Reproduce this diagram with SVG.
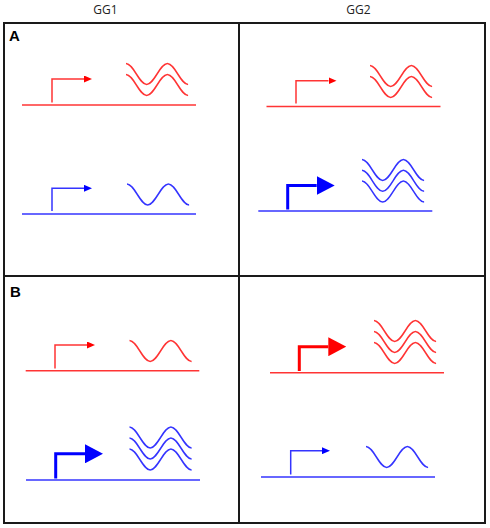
<svg xmlns="http://www.w3.org/2000/svg" xmlns:xlink="http://www.w3.org/1999/xlink" width="490" height="528" viewBox="0 0 490 528">
<style>
.frame{fill:none;stroke:#1a1a1a;stroke-width:2}
.hdr{font-family:"Open Sans","Liberation Sans",sans-serif;font-size:12px;fill:#222;text-anchor:middle}
.lbl{font-family:"Liberation Sans",Arial,sans-serif;font-size:15px;font-weight:bold;fill:#000}
.r{stroke:#ff3434;fill:none;stroke-width:1.5}
.b{stroke:#3434ff;fill:none;stroke-width:1.5}
.rt{stroke:#ff0000;fill:none;stroke-width:3;stroke-linejoin:miter}
.bt{stroke:#0000ff;fill:none;stroke-width:3;stroke-linejoin:miter}
</style>
<defs>
<path id="wave" d="M0,0 C7.5,0 13.2,21 20.7,21 S33.9,0 41.4,0 S54.6,21 62.1,21"/>
<marker id="arR" markerUnits="userSpaceOnUse" viewBox="0 0 8 7" refX="0" refY="3.5" markerWidth="8" markerHeight="7" orient="auto"><path d="M0,0 L8,3.5 L0,7 Z" fill="#ff0000"/></marker>
<marker id="arB" markerUnits="userSpaceOnUse" viewBox="0 0 8 7" refX="0" refY="3.5" markerWidth="8" markerHeight="7" orient="auto"><path d="M0,0 L8,3.5 L0,7 Z" fill="#0000ff"/></marker>
<marker id="arRT" markerUnits="userSpaceOnUse" viewBox="0 0 18 19" refX="0" refY="9.5" markerWidth="18" markerHeight="19" orient="auto"><path d="M0,0 L18,9.5 L0,19 Z" fill="#ff0000"/></marker>
<marker id="arBT" markerUnits="userSpaceOnUse" viewBox="0 0 18 19" refX="0" refY="9.5" markerWidth="18" markerHeight="19" orient="auto"><path d="M0,0 L18,9.5 L0,19 Z" fill="#0000ff"/></marker>
</defs>
<rect width="490" height="528" fill="#fff"/>
<g id="frame">
<rect class="frame" x="4" y="23" width="235" height="253"/>
<rect class="frame" x="239" y="23" width="246" height="253"/>
<rect class="frame" x="4" y="276" width="235" height="247"/>
<rect class="frame" x="239" y="276" width="246" height="247"/>
</g>
<g id="headers">
<text class="hdr" x="105.5" y="14">GG1</text>
<text class="hdr" x="358.5" y="14">GG2</text>
<text class="lbl" x="9" y="40.5">A</text>
<text class="lbl" x="10" y="296.5">B</text>
</g>
<g id="A-GG1-red">
<line class="r" x1="22" y1="105" x2="196" y2="105"/>
<path class="r" d="M52,102.5 V79 H84" marker-end="url(#arR)"/>
<use href="#wave" class="r" x="126" y="63.5"/>
<use href="#wave" class="r" x="126" y="74.5"/>
</g>
<g id="A-GG1-blue">
<line class="b" x1="22" y1="214" x2="196" y2="214"/>
<path class="b" d="M52,211 V188.3 H84" marker-end="url(#arB)"/>
<use href="#wave" class="b" x="127" y="184"/>
</g>
<g id="A-GG2-red">
<line class="r" x1="266.5" y1="106.5" x2="440.5" y2="106.5"/>
<path class="r" d="M296,103.5 V80.7 H328.5" marker-end="url(#arR)"/>
<use href="#wave" class="r" x="370" y="65.5"/>
<use href="#wave" class="r" x="370" y="76.5"/>
</g>
<g id="A-GG2-blue">
<line class="b" x1="258.3" y1="211" x2="432.3" y2="211"/>
<path class="bt" d="M287.7,209.5 V185.5 H316.7" marker-end="url(#arBT)"/>
<use href="#wave" class="b" x="362" y="159.5"/>
<use href="#wave" class="b" x="362" y="170.3"/>
<use href="#wave" class="b" x="362" y="181.1"/>
</g>
<g id="B-GG1-red">
<line class="r" x1="25.7" y1="370.7" x2="199.3" y2="370.7"/>
<path class="r" d="M55,368.5 V345 H87" marker-end="url(#arR)"/>
<use href="#wave" class="r" x="129.5" y="340.5"/>
</g>
<g id="B-GG2-red">
<line class="r" x1="270" y1="372.7" x2="444" y2="372.7"/>
<path class="rt" d="M299.3,371 V346.7 H328.3" marker-end="url(#arRT)"/>
<use href="#wave" class="r" x="374" y="320.5"/>
<use href="#wave" class="r" x="374" y="331.5"/>
<use href="#wave" class="r" x="374" y="342.5"/>
</g>
<g id="B-GG1-blue">
<line class="b" x1="26" y1="480" x2="200" y2="480"/>
<path class="bt" d="M55.7,478.5 V453.8 H85" marker-end="url(#arBT)"/>
<use href="#wave" class="b" x="129.5" y="427"/>
<use href="#wave" class="b" x="129.5" y="438"/>
<use href="#wave" class="b" x="129.5" y="449"/>
</g>
<g id="B-GG2-blue">
<line class="b" x1="261" y1="477" x2="435" y2="477"/>
<path class="b" d="M290.7,474.5 V450.7 H322" marker-end="url(#arB)"/>
<use href="#wave" class="b" x="366" y="446.5"/>
</g>
</svg>
